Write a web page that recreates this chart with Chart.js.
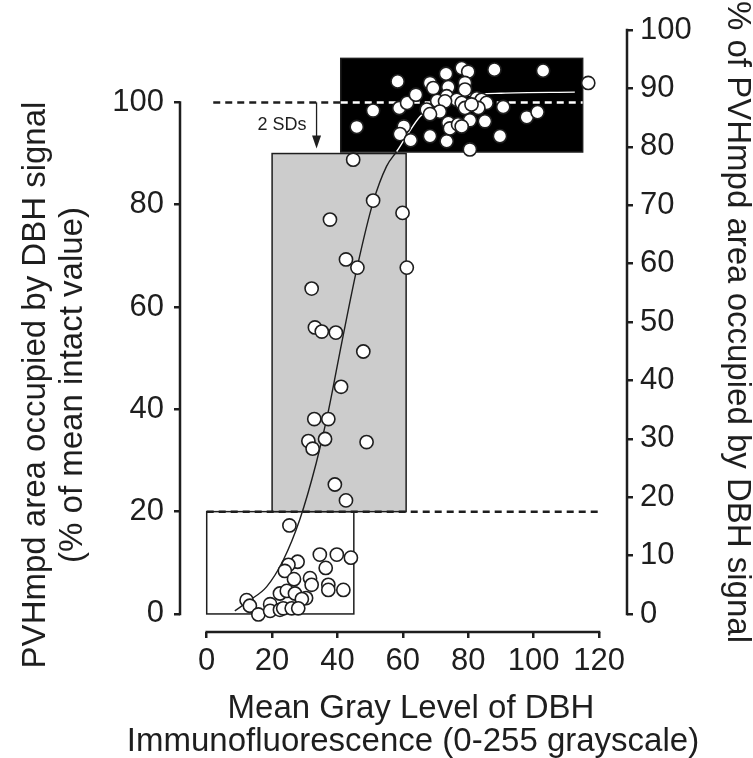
<!DOCTYPE html>
<html>
<head>
<meta charset="utf-8">
<script src="https://cdn.jsdelivr.net/npm/chart.js@4.4.1/dist/chart.umd.min.js"></script>
<style>
  html, body { margin: 0; padding: 0; background: #fff; }
</style>
</head>
<body>
<canvas id="chart" width="753" height="758"></canvas>
<script>
// axis ticks
const xTicks = [0, 20, 40, 60, 80, 100, 120];
const leftTicks = [0, 20, 40, 60, 80, 100];
const rightTicks = [0, 10, 20, 30, 40, 50, 60, 70, 80, 90, 100];

// individual animals: gray level (x) vs % of intact value (y)
const dbhX = [50.9, 45.9, 58.4, 58.9, 61.3, 64.0, 60.3, 59.1, 62.4, 68.3, 73.4, 73.2, 78.0, 80.0, 88.0, 102.9, 116.7,
  68.3, 69.3, 73.9, 79.0, 79.0, 73.4, 76.5, 70.5, 72.9, 67.3, 71.3, 68.3, 78.0, 79.0, 82.6, 84.1, 85.6, 83.1, 81.0,
  90.7, 97.9, 101.2, 85.1, 80.5, 73.9, 74.4, 76.9, 89.7, 80.5, 78.0,
  44.8, 50.9, 59.9, 37.7, 42.6, 46.1, 61.2, 32.1, 33.1, 35.2, 39.5, 47.9, 41.1, 32.9, 37.2, 31.1, 32.4, 36.2, 48.9,
  39.2, 42.6,
  25.3, 34.6, 39.8, 44.1, 36.4, 27.8, 25.0, 23.9, 26.7, 31.6, 32.1, 37.2, 37.2, 41.8, 22.4, 24.5, 27.0, 30.4, 29.1,
  12.2, 13.2, 19.4, 15.8, 19.4, 22.4, 23.4, 26.0, 28.0];
const dbhY = [98.4, 95.2, 104.1, 98.9, 99.9, 101.5, 95.3, 93.8, 92.6, 93.4, 92.4, 105.6, 106.7, 106.0, 106.4, 106.2, 103.8,
  103.8, 102.8, 103.0, 103.8, 102.5, 101.2, 100.5, 100.3, 100.2, 98.6, 98.2, 97.7, 99.9, 98.9, 100.8, 100.5, 99.9, 98.9, 99.6,
  99.1, 97.1, 98.1, 96.3, 96.5, 96.0, 94.9, 95.7, 93.4, 90.8, 95.3,
  88.8, 80.8, 78.4, 77.1, 69.3, 67.7, 67.7, 63.6, 56.0, 55.2, 55.0, 51.3, 44.4, 38.1, 38.1, 33.8, 32.3, 34.2, 33.6,
  25.3, 22.2,
  17.3, 11.6, 11.6, 11.0, 9.0, 10.2, 9.6, 8.4, 6.8, 7.0, 5.7, 5.7, 4.7, 4.7, 4.0, 4.5, 4.0, 3.1, 2.9,
  2.7, 1.6, 1.9, -0.1, 0.6, 0.8, 1.1, 1.1, 1.1];

// fitted curve
const fitX = [8.6, 13.2, 18.3, 23.4, 28.5, 33.5, 37, 41.3, 46.1, 50.9, 55, 58.1, 61.2, 65.2, 72, 80, 90, 112.6];
const fitY = [0.6, 2.7, 5.3, 10.5, 18.5, 29.5, 39, 53, 68, 80.5, 87.5, 90.4, 93.5, 97.2, 100.3, 101.4, 101.8, 102];

// shaded ranges: [xFrom, xTo, yFrom, yTo]
const boxes = [[0, 45, 0, 20], [20, 61, 20, 90], [41, 115, 90.3, 108.6]];
const boxFill = ['#ffffff', '#cccccc', '#000000'];

// dashed reference lines
const intactX = [2, 41, 115];   // mean intact value (100%)
const cutoffX = [0, 120];       // 20% cut-off

const ink = '#1e1e1e';
const fam = '"Liberation Sans", Arial, Helvetica, sans-serif';
Chart.defaults.font.family = fam;
Chart.defaults.color = ink;

const boxPlugin = {
  id: 'boxes',
  beforeDatasetsDraw(chart) {
    const { ctx, scales: { x, y } } = chart;
    ctx.save();
    boxes.forEach((b, i) => {
      const l = x.getPixelForValue(b[0]), r = x.getPixelForValue(b[1]);
      const t = y.getPixelForValue(b[3]), btm = y.getPixelForValue(b[2]);
      ctx.fillStyle = boxFill[i];
      ctx.fillRect(l, t, r - l, btm - t);
      ctx.strokeStyle = ink;
      ctx.lineWidth = 1.5;
      ctx.strokeRect(l, t, r - l, btm - t);
    });
    ctx.restore();
  }
};

const axisPlugin = {
  id: 'axes',
  afterDraw(chart) {
    const { ctx, scales: { x, y, y2 } } = chart;
    ctx.save();
    ctx.strokeStyle = ink;
    ctx.lineWidth = 2.5;
    ctx.lineCap = 'square';
    ctx.beginPath();
    // x axis
    ctx.moveTo(x.getPixelForValue(xTicks[0]), x.top);
    ctx.lineTo(x.getPixelForValue(xTicks[xTicks.length - 1]), x.top);
    // left axis
    ctx.moveTo(y.right, y.getPixelForValue(leftTicks[0]));
    ctx.lineTo(y.right, y.getPixelForValue(leftTicks[leftTicks.length - 1]));
    // right axis
    ctx.moveTo(y2.left, y2.getPixelForValue(rightTicks[0]));
    ctx.lineTo(y2.left, y2.getPixelForValue(rightTicks[rightTicks.length - 1]));
    ctx.stroke();

    // 2 SDs arrow
    const ax = x.getPixelForValue(33.6);
    const a0 = y.getPixelForValue(100), a1 = y.getPixelForValue(91);
    ctx.lineWidth = 1.3;
    ctx.lineCap = 'butt';
    ctx.beginPath();
    ctx.moveTo(ax, a0);
    ctx.lineTo(ax, a1 - 10);
    ctx.stroke();
    ctx.fillStyle = ink;
    ctx.beginPath();
    ctx.moveTo(ax, a1);
    ctx.lineTo(ax - 4.5, a1 - 13);
    ctx.lineTo(ax + 4.5, a1 - 13);
    ctx.closePath();
    ctx.fill();
    ctx.font = '18px ' + fam;
    ctx.textAlign = 'right';
    ctx.textBaseline = 'middle';
    ctx.fillText('2 SDs', x.getPixelForValue(30.5), y.getPixelForValue(95.6));

    // axis titles
    ctx.font = '33px ' + fam;
    ctx.textAlign = 'center';
    ctx.textBaseline = 'middle';
    ctx.fillText('Mean Gray Level of DBH', 411, 709);
    ctx.fillText('Immunofluorescence (0-255 grayscale)', 413, 742);

    ctx.save();
    ctx.translate(36, 385);
    ctx.rotate(-Math.PI / 2);
    ctx.fillText('PVHmpd area occupied by DBH signal', 0, 0);
    ctx.fillText('(% of mean intact value)', 0, 37);
    ctx.restore();

    ctx.save();
    ctx.translate(737, 322);
    ctx.rotate(Math.PI / 2);
    ctx.fillText('% of PVHmpd area occupied by DBH signal', 0, 0);
    ctx.restore();
    ctx.restore();
  }
};

const tickGrid = { drawOnChartArea: false, drawTicks: true, tickLength: 6, color: ink, lineWidth: 2.5 };
const tickFont = { size: 31 };

new Chart(document.getElementById('chart').getContext('2d'), {
  type: 'scatter',
  data: {
    datasets: [
      {
        label: 'animals',
        data: dbhX.map((v, i) => ({ x: v, y: dbhY[i] })),
        pointRadius: 6.6,
        pointBackgroundColor: '#ffffff',
        pointBorderColor: ink,
        pointBorderWidth: 1.6,
        order: 0
      },
      {
        label: 'fit',
        type: 'line',
        data: fitX.map((v, i) => ({ x: v, y: fitY[i] })),
        pointRadius: 0,
        borderWidth: 1.4,
        cubicInterpolationMode: 'monotone',
        segment: {
          borderColor: c => (c.p0.parsed.y >= boxes[2][2] ? '#ffffff' : ink)
        },
        order: 1
      },
      {
        label: 'intact',
        type: 'line',
        data: intactX.map(v => ({ x: v, y: 100 })),
        pointRadius: 0,
        borderWidth: 2.5,
        borderDash: [7, 5],
        segment: {
          borderColor: c => (c.p0.parsed.x >= boxes[2][0] ? '#ffffff' : ink)
        },
        order: 2
      },
      {
        label: 'cutoff',
        type: 'line',
        data: cutoffX.map(v => ({ x: v, y: 20 })),
        pointRadius: 0,
        borderWidth: 2.5,
        borderColor: ink,
        borderDash: [7, 5],
        order: 2
      }
    ]
  },
  options: {
    responsive: false,
    animation: false,
    layout: { padding: { top: 30, left: 0, right: 0, bottom: 0 } },
    plugins: { legend: { display: false }, tooltip: { enabled: false } },
    scales: {
      x: {
        type: 'linear',
        min: -8.17,
        max: 128.56,
        afterBuildTicks: s => { s.ticks = xTicks.map(v => ({ value: v })); },
        afterFit: s => { s.height = 126; },
        grid: tickGrid,
        border: { display: false },
        ticks: { font: tickFont, padding: 5, color: ink, maxRotation: 0 }
      },
      y: {
        position: 'left',
        min: -3.53,
        max: 114.15,
        afterBuildTicks: s => { s.ticks = leftTicks.map(v => ({ value: v })); },
        afterFit: s => { s.width = 180; },
        grid: tickGrid,
        border: { display: false },
        ticks: { font: tickFont, padding: 10, color: ink }
      },
      y2: {
        position: 'right',
        min: -3.08,
        max: 100,
        afterBuildTicks: s => { s.ticks = rightTicks.map(v => ({ value: v })); },
        afterFit: s => { s.width = 126; },
        grid: tickGrid,
        border: { display: false },
        ticks: { font: tickFont, padding: 7, color: ink }
      }
    }
  },
  plugins: [boxPlugin, axisPlugin]
});
</script>
</body>
</html>
